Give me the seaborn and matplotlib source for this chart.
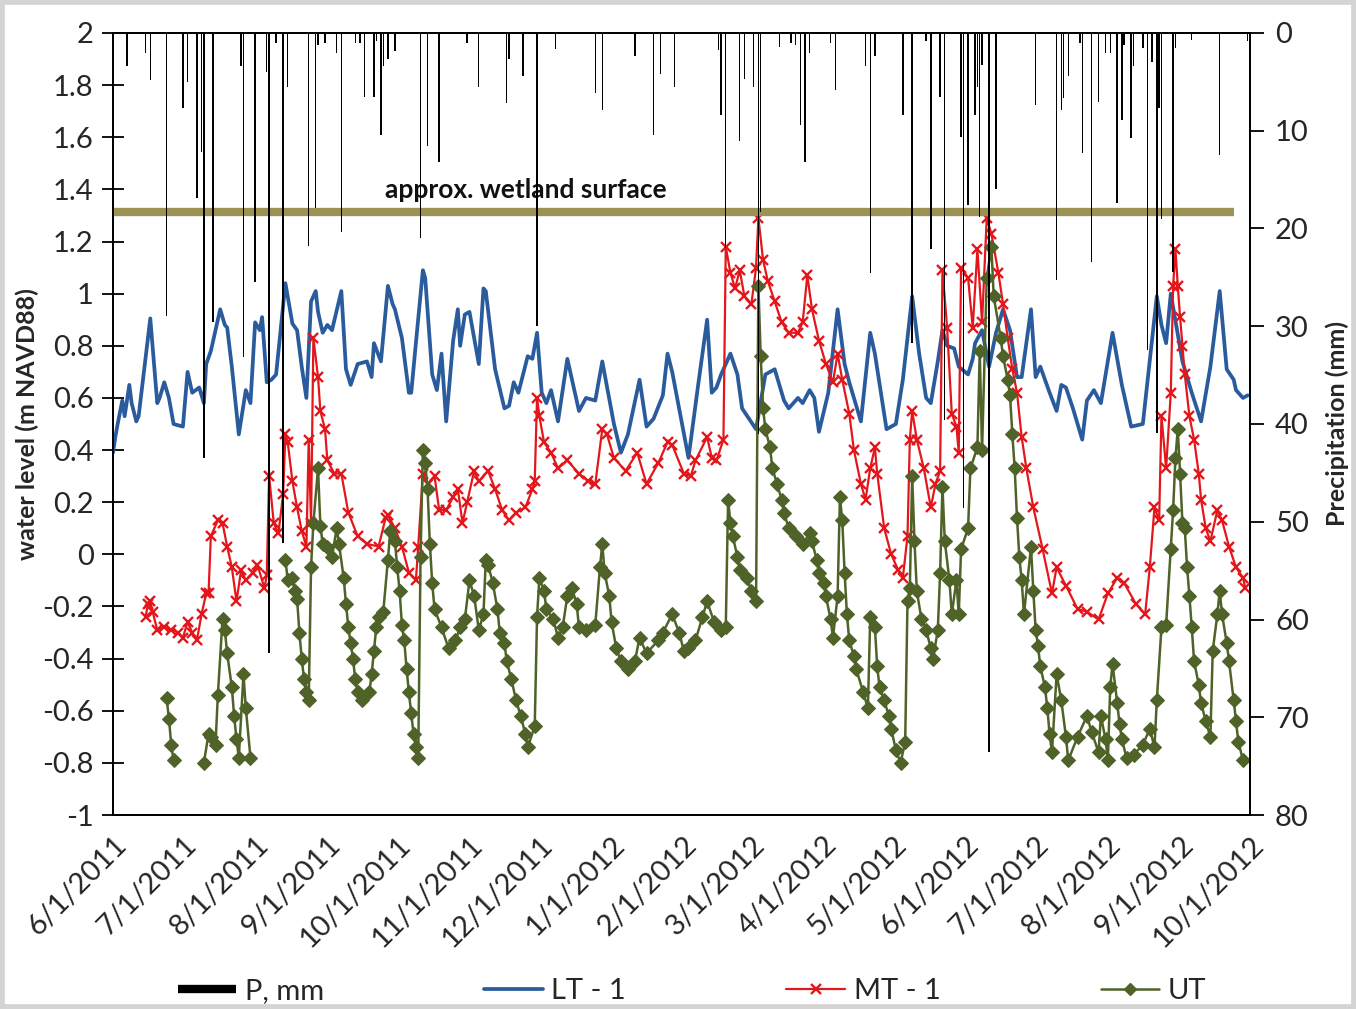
import numpy as np
import pandas as pd
import matplotlib
matplotlib.use("Agg")
import matplotlib.pyplot as plt
from matplotlib.lines import Line2D
from matplotlib.patches import Rectangle
import seaborn as sns

# ---------------- data (days since 6/1/2011) ----------------
START = "2011-06-01"

lt_days = [0,1,2,4,5,7,8,10,11,16,19,20,22,24,26,30,32,34,37,39,40,42,46,48,49,51,54,57,59,61,63,64,66,68,70,74,77,79,81,83,85,87,88,90,92,94,98,100,102,105,109,111,112,115,118,120,121,124,127,128,130,133,134,137,139,141,143,146,148,149,151,153,157,159,160,164,168,170,172,174,178,180,182,184,186,188,191,195,200,203,207,210,215,218,221,226,229,232,236,238,240,247,251,255,257,259,261,265,268,270,276,280,284,288,290,294,296,299,301,303,307,311,314,316,321,325,327,332,336,339,343,346,349,351,354,356,358,361,363,367,369,370,373,376,379,382,385,388,390,394,396,398,402,405,407,409,412,416,418,421,424,429,433,437,442,448,450,452,454,459,463,467,471,475,478,481,482,485,487]
lt_vals = [0.39,0.45,0.50,0.59,0.53,0.65,0.58,0.51,0.53,0.905,0.58,0.60,0.66,0.60,0.50,0.49,0.70,0.62,0.64,0.58,0.73,0.78,0.94,0.88,0.87,0.72,0.46,0.63,0.58,0.89,0.86,0.91,0.66,0.67,0.69,1.04,0.885,0.86,0.72,0.60,0.97,1.01,0.93,0.85,0.88,0.86,1.01,0.71,0.65,0.73,0.74,0.68,0.81,0.74,1.03,0.96,0.94,0.83,0.62,0.62,0.81,1.09,1.06,0.69,0.63,0.77,0.51,0.82,0.94,0.80,0.92,0.93,0.73,1.02,1.01,0.71,0.56,0.57,0.66,0.62,0.76,0.75,0.85,0.62,0.58,0.63,0.51,0.75,0.55,0.60,0.59,0.74,0.50,0.39,0.46,0.67,0.49,0.52,0.61,0.77,0.70,0.37,0.64,0.90,0.62,0.64,0.69,0.77,0.69,0.56,0.48,0.69,0.71,0.59,0.56,0.60,0.58,0.63,0.60,0.47,0.62,0.94,0.73,0.66,0.51,0.85,0.77,0.48,0.50,0.67,0.99,0.77,0.60,0.58,0.74,0.86,0.80,0.79,0.72,0.69,0.75,0.81,0.86,0.72,0.85,0.94,0.86,0.68,0.68,0.94,0.68,0.72,0.62,0.55,0.65,0.64,0.56,0.44,0.59,0.63,0.58,0.85,0.65,0.49,0.50,0.99,0.88,0.81,1.00,0.74,0.62,0.51,0.72,1.01,0.71,0.67,0.63,0.60,0.61]

mt_days = [14,15,16,17,19,22,25,28,30,32,34,36,38,40,41,42,45,47,49,51,53,55,57,60,62,65,66,67,69,71,73,74,75,77,79,81,83,84,85,86,88,89,91,92,95,98,101,105,109,114,117,118,121,124,127,130,131,133,135,138,140,143,146,148,150,152,155,157,161,164,167,170,173,177,180,181,182,183,185,188,191,195,200,204,207,210,212,215,220,225,229,234,238,240,245,248,250,255,257,259,262,263,265,267,269,271,274,276,277,279,281,284,287,290,294,296,298,300,303,306,309,311,313,316,318,321,323,325,327,328,331,334,337,339,341,342,343,345,348,351,353,355,356,358,360,362,363,364,367,369,371,373,375,377,380,382,384,386,388,390,392,395,399,403,405,409,414,418,423,427,431,434,439,443,445,447,449,450,452,454,455,456,457,458,459,460,462,464,466,467,469,471,474,476,479,482,485,486]
mt_vals = [-0.24,-0.19,-0.18,-0.22,-0.29,-0.28,-0.29,-0.30,-0.32,-0.26,-0.30,-0.33,-0.23,-0.15,-0.15,0.07,0.13,0.12,0.03,-0.05,-0.18,-0.06,-0.10,-0.07,-0.04,-0.13,-0.08,0.30,0.12,0.08,0.23,0.46,0.43,0.28,0.18,0.09,0.03,0.44,0.12,0.83,0.68,0.55,0.48,0.36,0.31,0.31,0.16,0.07,0.04,0.03,0.14,0.15,0.10,0.03,-0.07,-0.10,0.03,0.31,0.27,0.30,0.17,0.17,0.22,0.25,0.12,0.20,0.32,0.28,0.32,0.25,0.17,0.13,0.16,0.18,0.25,0.28,0.60,0.53,0.43,0.39,0.33,0.36,0.31,0.28,0.27,0.48,0.46,0.37,0.32,0.39,0.27,0.35,0.43,0.42,0.31,0.30,0.36,0.45,0.37,0.36,0.44,1.18,1.08,1.02,1.09,0.99,0.96,1.10,1.29,1.13,1.05,0.97,0.89,0.85,0.85,0.89,1.07,0.94,0.82,0.73,0.66,0.77,0.67,0.54,0.40,0.27,0.21,0.33,0.41,0.31,0.10,0.00,-0.06,-0.09,0.07,0.44,0.55,0.44,0.33,0.18,0.27,0.32,1.09,0.87,0.54,0.49,0.39,1.10,1.06,0.87,1.17,0.89,1.29,1.23,1.08,0.96,0.83,0.71,0.62,0.45,0.33,0.18,0.02,-0.15,-0.05,-0.12,-0.21,-0.22,-0.25,-0.15,-0.09,-0.11,-0.19,-0.23,-0.05,0.18,0.13,0.53,0.33,0.62,1.03,1.17,1.03,0.91,0.80,0.69,0.53,0.44,0.31,0.21,0.10,0.05,0.17,0.13,0.03,-0.05,-0.09,-0.13]

# UT was logged in three separate runs (gaps between them)
ut1_days = [23,24,25,26]
ut1_vals = [-0.55,-0.63,-0.73,-0.79]
ut2_days = [39,41,42,44,45,47,48,49,51,52,53,54,56,57,59]
ut2_vals = [-0.80,-0.69,-0.70,-0.73,-0.54,-0.25,-0.29,-0.38,-0.51,-0.62,-0.71,-0.78,-0.46,-0.59,-0.78]
ut3_days = [74,75,77,78,79,80,81,82,83,84,85,86,88,89,90,92,94,96,97,99,100,101,102,103,104,105,107,110,111,112,113,114,116,118,119,121,122,123,124,125,126,127,128,129,130,131,132,133,134,135,136,137,138,141,144,147,149,151,153,155,157,159,160,161,163,165,166,168,169,171,173,175,177,178,181,182,183,185,186,189,191,193,195,197,199,200,203,207,209,210,211,213,214,216,218,221,224,226,229,234,236,240,243,245,247,250,253,255,258,261,263,264,265,266,268,269,272,274,276,277,278,279,280,282,283,285,287,288,290,293,296,299,300,302,303,305,306,308,309,311,312,313,314,315,316,318,319,322,324,325,327,328,329,331,333,334,336,338,340,341,342,343,344,345,347,349,351,352,354,355,356,357,359,360,362,363,364,367,368,371,372,373,375,377,378,381,382,384,385,386,387,388,389,390,391,394,395,396,397,398,400,401,402,403,405,407,409,410,414,418,420,423,424,426,427,428,429,431,432,433,435,438,442,445,447,448,450,452,454,455,456,457,458,459,460,461,462,463,464,466,467,469,471,472,474,475,476,478,479,481,482,483,485]
ut3_vals = [-0.02,-0.10,-0.09,-0.14,-0.17,-0.30,-0.40,-0.48,-0.53,-0.56,-0.05,0.12,0.33,0.11,0.04,0.03,-0.01,0.10,0.04,-0.09,-0.19,-0.28,-0.34,-0.40,-0.48,-0.53,-0.56,-0.53,-0.46,-0.37,-0.28,-0.24,-0.22,-0.02,0.09,0.05,-0.05,-0.14,-0.27,-0.33,-0.44,-0.53,-0.61,-0.69,-0.74,-0.78,-0.01,0.40,0.35,0.25,0.04,-0.11,-0.21,-0.28,-0.36,-0.33,-0.28,-0.25,-0.10,-0.16,-0.29,-0.23,-0.02,-0.04,-0.11,-0.21,-0.30,-0.34,-0.41,-0.48,-0.56,-0.62,-0.69,-0.74,-0.66,-0.24,-0.09,-0.14,-0.21,-0.25,-0.32,-0.28,-0.16,-0.13,-0.19,-0.28,-0.29,-0.27,-0.05,0.04,-0.07,-0.16,-0.26,-0.36,-0.41,-0.44,-0.41,-0.32,-0.38,-0.33,-0.30,-0.23,-0.30,-0.37,-0.36,-0.33,-0.24,-0.18,-0.26,-0.29,-0.28,0.21,0.12,0.07,-0.01,-0.06,-0.09,-0.14,-0.18,1.03,0.76,0.56,0.48,0.41,0.33,0.27,0.21,0.16,0.10,0.07,0.04,0.08,0.05,-0.02,-0.07,-0.11,-0.16,-0.25,-0.32,-0.16,0.22,0.13,-0.07,-0.23,-0.33,-0.39,-0.44,-0.53,-0.59,-0.24,-0.28,-0.43,-0.51,-0.56,-0.62,-0.67,-0.75,-0.80,-0.72,-0.18,-0.13,0.30,0.05,-0.14,-0.25,-0.29,-0.36,-0.40,-0.29,-0.07,0.26,0.05,-0.10,-0.23,-0.10,-0.23,0.02,0.10,0.33,0.41,0.78,0.40,1.06,1.18,0.99,0.83,0.76,0.67,0.61,0.46,0.33,0.14,-0.01,-0.10,-0.23,0.03,-0.14,-0.29,-0.35,-0.43,-0.51,-0.59,-0.69,-0.76,-0.46,-0.56,-0.70,-0.79,-0.70,-0.62,-0.68,-0.76,-0.62,-0.71,-0.79,-0.51,-0.42,-0.57,-0.65,-0.71,-0.78,-0.77,-0.73,-0.67,-0.74,-0.56,-0.28,-0.27,0.02,0.17,0.37,0.48,0.31,0.12,0.10,-0.05,-0.16,-0.28,-0.41,-0.50,-0.57,-0.64,-0.70,-0.37,-0.23,-0.14,-0.23,-0.34,-0.41,-0.56,-0.64,-0.72,-0.79]

p_days = [6,14,16,23,30,32,36,38,39,43,55,56,61,66,67,70,73,75,84,87,88,91,96,98,104,106,108,112,113,115,116,118,121,132,135,140,152,157,169,170,176,182,190,207,210,224,232,235,241,260,261,263,269,271,275,277,278,286,291,293,295,297,299,308,310,323,325,327,339,343,349,351,355,357,364,365,367,370,371,372,373,376,379,396,405,407,408,410,415,416,420,423,426,428,431,433,434,437,438,442,444,446,448,449,450,455,456,463,475,487]
p_mm = [3.4,2.0,4.8,29.0,7.7,5.0,16.9,12.2,43.5,29.6,3.4,33.1,25.5,4.0,63.4,1.0,52.2,5.5,21.8,17.9,1.2,1.0,2.0,20.4,1.0,1.0,6.5,6.5,0.8,10.4,3.4,2.7,1.8,21.0,11.6,13.2,1.0,5.5,7.2,2.7,4.4,30.0,1.6,6.1,7.9,2.4,10.4,4.2,5.5,1.7,8.4,22.0,11.0,4.7,5.5,41.0,18.3,1.4,1.0,1.2,9.4,13.2,2.0,1.0,5.8,3.4,24.6,2.4,8.4,31.7,0.8,22.1,6.5,39.6,10.6,48.6,17.6,8.4,5.5,18.8,3.3,73.6,16.0,7.4,25.3,7.9,6.7,4.4,1.0,12.3,23.4,7.1,2.0,2.0,17.4,8.9,1.2,10.7,3.4,1.5,32.4,3.0,40.9,7.7,19.0,24.5,1.5,0.7,12.5,0.8]

wetland_level = 1.315
wetland_span_days = [0, 481]

x_tick_labels = ["6/1/2011","7/1/2011","8/1/2011","9/1/2011","10/1/2011","11/1/2011",
                 "12/1/2011","1/1/2012","2/1/2012","3/1/2012","4/1/2012","5/1/2012",
                 "6/1/2012","7/1/2012","8/1/2012","9/1/2012","10/1/2012"]

# ---------------- frames ----------------
start = pd.Timestamp(START)
def to_dates(d):
    return start + pd.to_timedelta(np.asarray(d), unit="D")

lt_df = pd.DataFrame({"date": to_dates(lt_days), "level": lt_vals})
mt_df = pd.DataFrame({"date": to_dates(mt_days), "level": mt_vals})
ut_parts = []
for run, (d, v) in enumerate([(ut1_days, ut1_vals), (ut2_days, ut2_vals), (ut3_days, ut3_vals)]):
    ut_parts.append(pd.DataFrame({"date": to_dates(d), "level": v, "run": run}))
ut_df = pd.concat(ut_parts, ignore_index=True)
p_df = pd.DataFrame({"date": to_dates(p_days), "mm": p_mm})
tick_dates = pd.to_datetime(x_tick_labels, format="%m/%d/%Y")

# ---------------- style ----------------
sns.set_theme(style="white")
plt.rcParams["font.family"] = ["Lato", "DejaVu Sans"]

C_LT = "#2A5B9C"
C_MT = "#E3171B"
C_UT = "#4F6228"
C_WET = "#9C9254"

fig = plt.figure(figsize=(13.56, 10.09), dpi=100)
ax = fig.add_axes([113/1356, 1-815/1009, (1250-113)/1356, (815-33)/1009])

sns.lineplot(data=lt_df, x="date", y="level", ax=ax, color=C_LT, lw=2.7,
             legend=False, zorder=3)
sns.lineplot(data=mt_df, x="date", y="level", ax=ax, color=C_MT, lw=1.6,
             marker="x", markersize=6.5, markeredgewidth=1.7, markeredgecolor=C_MT,
             legend=False, zorder=4)
sns.lineplot(data=ut_df, x="date", y="level", units="run", estimator=None, ax=ax,
             color=C_UT, lw=1.8, marker="D", markersize=7, markeredgecolor=C_UT,
             markerfacecolor=C_UT, legend=False, zorder=5)

wet_dates = to_dates(wetland_span_days)
ax.plot(wet_dates, [wetland_level]*2, color=C_WET, lw=6, solid_capstyle="butt", zorder=6)
ax.text(to_dates([177])[0], 1.35, "approx. wetland surface", fontsize=19,
        fontweight="bold", ha="center", va="bottom", color="#111111", zorder=7)

yt = np.round(np.arange(-1, 2.01, 0.2), 1) + 0.0
ax.set_ylim(-1, 2)
ax.set_yticks(yt)
ax.set_yticklabels([f"{abs(v):g}" if abs(v) < 1e-9 else f"{v:g}" for v in yt])
ax.set_xlim(tick_dates[0], tick_dates[-1])
ax.set_xticks(tick_dates)
ax.set_xticklabels(x_tick_labels, rotation=45, ha="right", rotation_mode="anchor")
ax.set_xlabel("")
ax.set_ylabel("water level (m NAVD88)", fontsize=18, fontweight="bold", labelpad=2)
ax.tick_params(axis="both", which="major", direction="inout", length=16, width=1.3,
               labelsize=21, color="black", pad=6)
ax.tick_params(axis="x", pad=4)
for s in ax.spines.values():
    s.set_color("black")
    s.set_linewidth(1.3)

ax2 = ax.twinx()
ax2.bar(p_df["date"], p_df["mm"], width=0.6, color="black", linewidth=0, zorder=2)
ax2.set_ylim(80, 0)
ax2.set_yticks(np.arange(0, 81, 10))
ax2.set_ylabel("Precipitation (mm)", fontsize=18, fontweight="bold", labelpad=12)
ax2.tick_params(axis="y", direction="out", length=10, width=1.3, labelsize=21, pad=8,
                color="black")
for s in ax2.spines.values():
    s.set_color("black")
    s.set_linewidth(1.3)
ax2.grid(False)
ax.grid(False)

handles = [
    Line2D([], [], color="black", lw=6, solid_capstyle="butt"),
    Line2D([], [], color=C_LT, lw=2.7),
    Line2D([], [], color=C_MT, lw=1.6, marker="x", markersize=6.5, markeredgewidth=1.7),
    Line2D([], [], color=C_UT, lw=1.8, marker="D", markersize=6),
]
fig.legend(handles, ["P, mm", "LT - 1", "MT - 1", "UT"], ncol=4, frameon=False,
           loc="center left", bbox_to_anchor=(163/1356, 1-991/1009), borderpad=0,
           fontsize=21, handlelength=2.0, handletextpad=0.3, columnspacing=5.5)

fig.patches.append(Rectangle((0, 0), 1, 1, transform=fig.transFigure, fill=False,
                             edgecolor="#d4d4d4", lw=7, zorder=0))

fig.savefig("out.png", dpi=100, facecolor="white")
